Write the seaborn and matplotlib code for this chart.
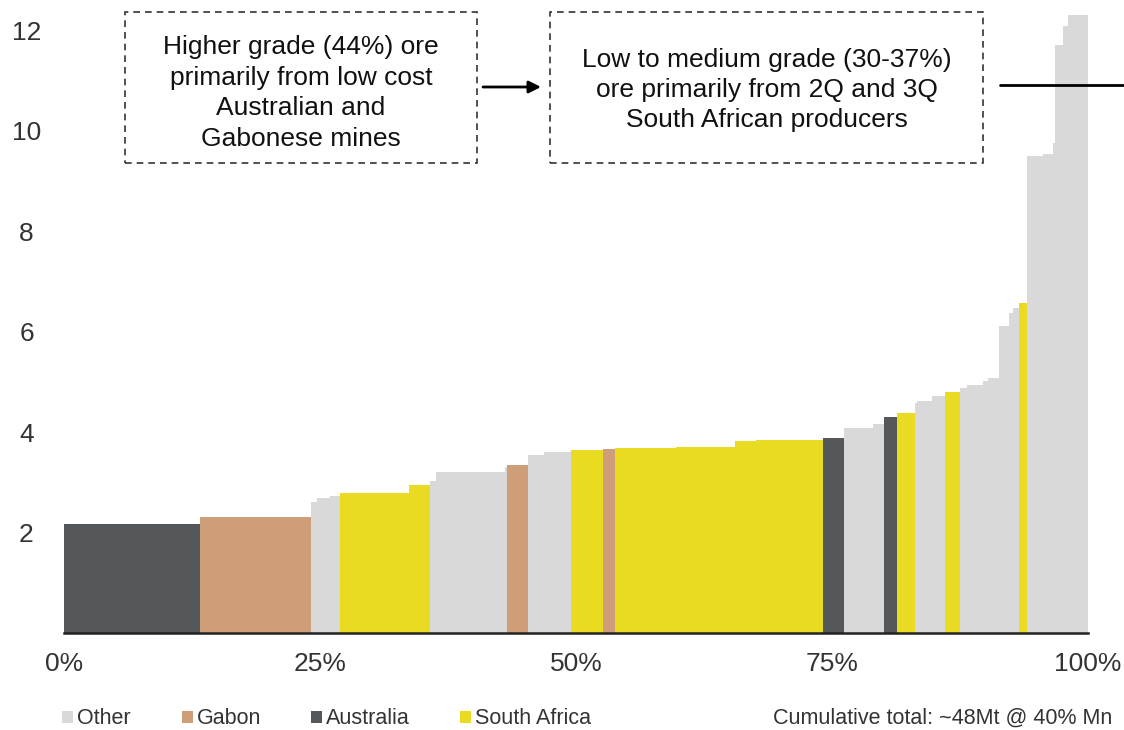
import matplotlib
matplotlib.use("Agg")
import matplotlib.pyplot as plt
from matplotlib.patches import Rectangle, Patch
import numpy as np
import pandas as pd
import seaborn as sns

# share of cumulative capacity (%) and cash cost per mine, lowest cost first
widths = [13.28, 10.81, 0.59, 1.30, 0.97, 6.74, 2.05, 0.59, 6.74, 0.24,
          1.97, 1.60, 2.60, 3.13, 1.23, 5.93, 5.79, 2.02, 6.51, 2.05,
          2.83, 1.11, 1.27, 1.78, 0.20, 1.44, 1.27, 1.46, 0.65, 1.62,
          0.49, 1.05, 0.95, 0.45, 0.52, 0.81, 1.59, 0.92, 0.23, 0.75,
          0.55, 1.92]
costs = [2.16, 2.31, 2.61, 2.68, 2.73, 2.78, 2.94, 3.02, 3.20, 3.31,
         3.34, 3.54, 3.61, 3.64, 3.67, 3.68, 3.70, 3.82, 3.84, 3.89,
         4.09, 4.16, 4.29, 4.37, 4.57, 4.62, 4.72, 4.80, 4.88, 4.93,
         5.01, 5.08, 6.12, 6.36, 6.47, 6.57, 9.50, 9.53, 9.76, 11.70,
         12.09, 12.31]
regions = ["Australia", "Gabon", "Other", "Other", "Other", "South Africa", "South Africa",
           "Other", "Other", "Other", "Gabon", "Other", "Other", "South Africa", "Gabon",
           "South Africa", "South Africa", "South Africa", "South Africa", "Australia",
           "Other", "Other", "Australia", "South Africa", "Other", "Other", "Other",
           "South Africa", "Other", "Other", "Other", "Other", "Other", "Other", "Other",
           "South Africa", "Other", "Other", "Other", "Other", "Other", "Other"]

legend_order = ["Other", "Gabon", "Australia", "South Africa"]
palette = dict(zip(legend_order, ["#D9D9D9", "#CD9E77", "#54585A", "#E9DA22"]))

y_ticks = [2, 4, 6, 8, 10, 12]
x_ticks = [0, 25, 50, 75, 100]
x_labels = ["0%", "25%", "50%", "75%", "100%"]

left_note = "Higher grade (44%) ore\nprimarily from low cost\nAustralian and\nGabonese mines"
right_note = "Low to medium grade (30-37%)\nore primarily from 2Q and 3Q\nSouth African producers"
total_note = "Cumulative total: ~48Mt @ 40% Mn"

df = pd.DataFrame({"width": widths, "cost": costs, "region": regions})
df["start"] = df["width"].cumsum() - df["width"]

sns.set_style("white")
plt.rcParams["font.family"] = ["Liberation Sans", "DejaVu Sans"]

W, H = 1124, 730
fig = plt.figure(figsize=(W / 100, H / 100), dpi=100)
ax = fig.add_axes([64 / W, (H - 633) / H, 1024 / W, 633 / H])

ax.bar(df["start"], df["cost"], width=df["width"], align="edge",
       color=df["region"].map(palette), linewidth=0)

ax.set_xlim(0, 100)
ax.set_ylim(0, 12.6)
ax.set_xticks(x_ticks)
ax.set_xticklabels(x_labels)
ax.set_yticks(y_ticks)
ax.tick_params(axis="both", length=0, labelsize=19, colors="#333333")
ax.tick_params(axis="x", pad=14)
ax.tick_params(axis="y", pad=27)
for lab in ax.get_yticklabels():
    lab.set_horizontalalignment("center")
sns.despine(ax=ax, left=True)
ax.spines["bottom"].set_color("#222222")
ax.spines["bottom"].set_linewidth(1.8)

# dashed annotation boxes
for x0, x1, yc, txt in [(125, 477, 93, left_note), (550, 983, 90, right_note)]:
    fig.patches.append(Rectangle((x0 / W, (H - 163) / H), (x1 - x0) / W, 151 / H,
                                 transform=fig.transFigure, fill=False,
                                 edgecolor="#333333", linewidth=1.2,
                                 linestyle=(0, (4, 3))))
    fig.text((x0 + x1) / 2 / W, (H - yc) / H, txt, ha="center", va="center",
             fontsize=19, color="#111111", linespacing=1.34)

ax.annotate("", xy=(541 / W, (H - 87) / H), xytext=(483 / W, (H - 87) / H),
            xycoords="figure fraction", textcoords="figure fraction",
            arrowprops=dict(arrowstyle="-|>", color="black", lw=2,
                            mutation_scale=18, shrinkA=0, shrinkB=0))
fig.add_artist(plt.Line2D([1000 / W, 1.0], [(H - 85) / H] * 2,
                          transform=fig.transFigure, color="black", lw=2))

# one single-entry legend per region, placed like the reference
for r, x in zip(legend_order, [62, 182, 311, 460]):
    fig.legend(handles=[Patch(facecolor=palette[r], edgecolor="none", label=r)],
               loc="center left", bbox_to_anchor=(x / W, (H - 719) / H),
               frameon=False, fontsize=15.5, handlelength=0.5, handleheight=0.5,
               handletextpad=0.2, borderpad=0, borderaxespad=0,
               labelcolor="#333333")
fig.text(1112 / W, (H - 718) / H, total_note, ha="right", va="center",
         fontsize=15.5, color="#333333")

fig.savefig("out.png", dpi=100)
